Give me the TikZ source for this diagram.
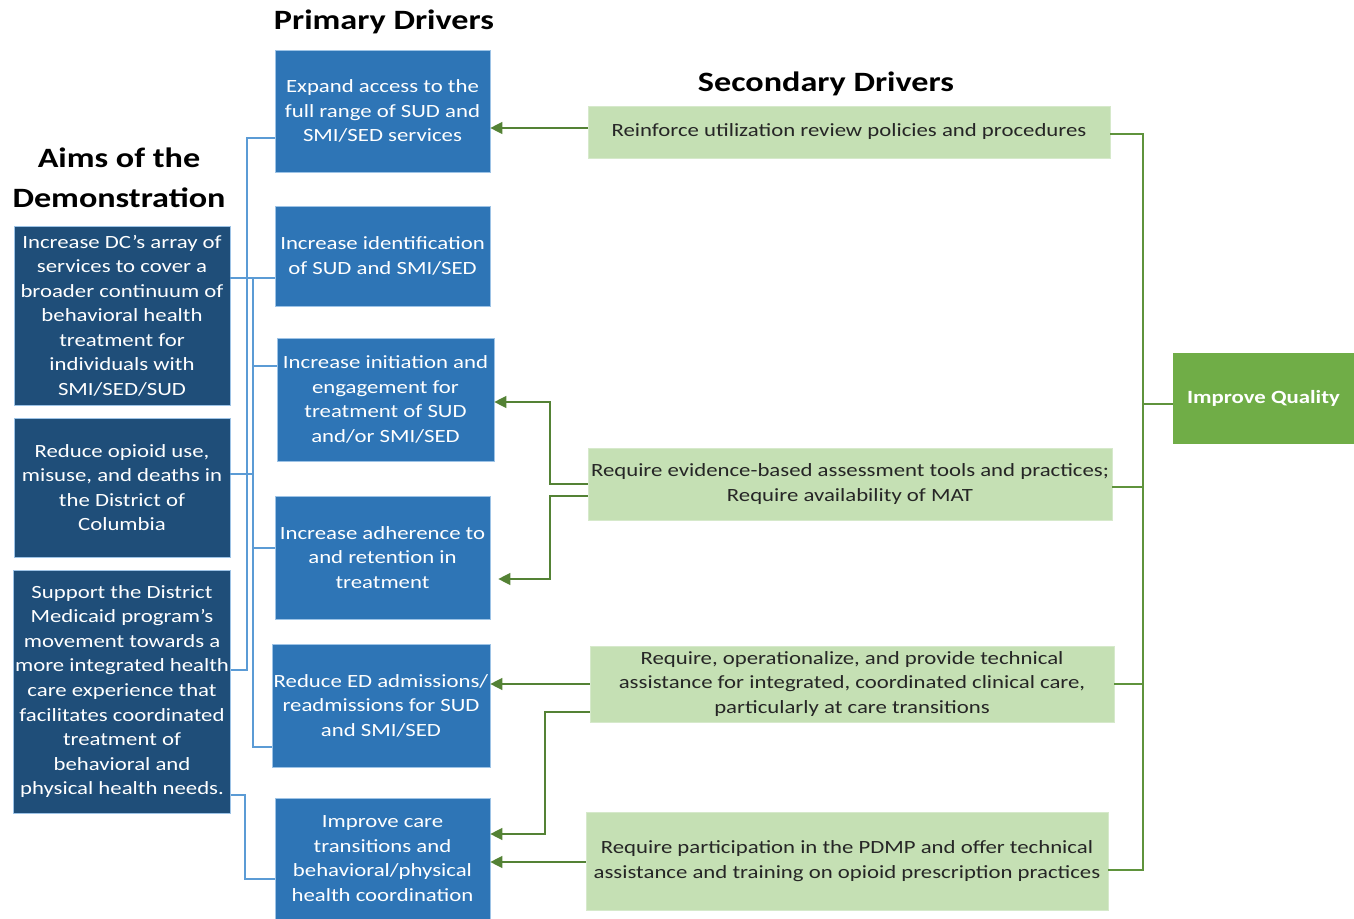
\documentclass[tikz,border=0pt]{standalone}
\usepackage{fontspec}
\setmainfont{Carlito}[FakeStretch=1.22]
\usepackage{tikz}
\usetikzlibrary{arrows.meta}

\definecolor{aimblue}{HTML}{1F4E79}
\definecolor{pdblue}{HTML}{2E75B6}
\definecolor{sdgreen}{HTML}{C5E0B4}
\definecolor{iqgreen}{HTML}{70AD47}
\definecolor{linkblue}{HTML}{5B9BD5}
\definecolor{arrgreen}{HTML}{548235}
\newcommand{\boxfont}{\fontsize{14}{18.4}\selectfont}
\newcommand{\headfont}{\fontsize{21}{30}\selectfont\bfseries}

\begin{document}
\begin{tikzpicture}[x=0.75pt,y=-0.75pt,
	aim/.style={fill=aimblue,draw=linkblue!60!white,line width=0.5pt,text=white,align=center,font=\boxfont,inner sep=1pt,minimum width=162pt},
	primary/.style={fill=pdblue,draw=linkblue!60!white,line width=0.5pt,text=white,align=center,font=\boxfont,inner sep=1pt,minimum width=161.25pt},
	secondary/.style={fill=sdgreen,draw=sdgreen!70!white,line width=0.5pt,text=black!85,align=center,font=\boxfont,inner sep=1pt,minimum width=391.5pt},
	head/.style={font=\headfont,text=black,align=center},
	bline/.style={draw=linkblue,line width=1pt},
	gline/.style={draw=arrgreen,line width=1pt},
	garrow/.style={gline,-{Triangle[length=9pt,width=9pt]}}]
	\useasboundingbox (0,0) rectangle (1354,919);
	% headings
	\node[head] (aimhead) at (119,178) {Aims of the\\Demonstration};
	\node[head] (pdhead) at (384,22) {Primary Drivers};
	\node[head] (sdhead) at (826,84) {Secondary Drivers};
	% aims
	\node[aim,minimum height=134.25pt] (a1) at (122,315.5) {Increase DC’s array of\\services to cover a\\broader continuum of\\behavioral health\\treatment for\\individuals with\\SMI/SED/SUD};
	\node[aim,minimum height=104.25pt] (a2) at (122,487.5) {Reduce opioid use,\\misuse, and deaths in\\the District of\\Columbia};
	\node[aim,minimum height=182.25pt] (a3) at (122,691.5) {Support the District\\Medicaid program’s\\movement towards a\\more integrated health\\care experience that\\facilitates coordinated\\treatment of\\behavioral and\\physical health needs.};
	% primary drivers
	\node[primary,minimum height=91.5pt] (p1) at (382.5,111) {Expand access to the\\full range of SUD and\\SMI/SED services};
	\node[primary,minimum height=75pt] (p2) at (382.5,256) {Increase identification\\of SUD and SMI/SED};
	\node[primary,minimum height=92.25pt,minimum width=162.75pt] (p3) at (385.5,399.5) {Increase initiation and\\engagement for\\treatment of SUD\\and/or SMI/SED};
	\node[primary,minimum height=92.25pt] (p4) at (382.5,557.5) {Increase adherence to\\and retention in\\treatment};
	\node[primary,minimum height=92.25pt,minimum width=163.5pt] (p5) at (381,705.5) {Reduce ED admissions/\\readmissions for SUD\\and SMI/SED};
	\node[primary,minimum height=90.75pt] (p6) at (382.5,858.5) {Improve care\\transitions and\\behavioral/physical\\health coordination};
	% secondary drivers
	\node[secondary,minimum height=39pt] (s1) at (849,132) {Reinforce utilization review policies and procedures};
	\node[secondary,minimum height=54pt,minimum width=393pt] (s2) at (850,484) {Require evidence-based assessment tools and practices;\\Require availability of MAT};
	\node[secondary,minimum height=57pt,minimum width=393pt] (s3) at (852,684) {Require, operationalize, and provide technical\\assistance for integrated, coordinated clinical care,\\particularly at care transitions};
	\node[secondary,minimum height=73.5pt] (s4) at (847,861) {Require participation in the PDMP and offer technical\\assistance and training on opioid prescription practices};
	% goal
	\node[fill=iqgreen,text=white,font=\fontsize{14}{18}\selectfont\bfseries,minimum width=135.75pt,minimum height=68.25pt,inner sep=1pt] (iq) at (1263.5,398.5) {Improve Quality};
	%
	% aims to primary drivers
	\path[bline]
	(p1.west |- 0,138) -| (247,670) -- (a3.east |- 0,670)
	(a1.east |- 0,278) -- (p2.west |- 0,278)
	(253,278) |- (p5.west |- 0,747)
	(253,366) -- (p3.west |- 0,366)
	(a2.east |- 0,474) -- (253,474)
	(253,548) -- (p4.west |- 0,548)
	(a3.east |- 0,795) -| (245,879) -- (p6.west |- 0,879);
	%
	% secondary to primary drivers
	\path[garrow] (s1.west |- 0,128) -- (p1.east |- 0,128);
	\path[garrow] (s2.west |- 0,484) -| (550,402) -- (p3.east |- 0,402);
	\path[garrow] (s2.west |- 0,496) -| (550,579) -- ([xshift=6pt]p4.east |- 0,579);
	\path[garrow] (s3.west |- 0,684) -- (p5.east |- 0,684);
	\path[garrow] (s3.west |- 0,712) -| (545,834) -- (p6.east |- 0,834);
	\path[garrow] (s4.west |- 0,862) -- (p6.east |- 0,862);
	%
	% secondary drivers to goal
	\path[gline,draw=iqgreen!85!black,line width=1.3pt]
	(s1.east |- 0,134) -| (1143,870) -- (s4.east |- 0,870)
	(s2.east |- 0,487) -- (1143,487)
	(s3.east |- 0,684) -- (1143,684)
	(1143,404) -- (iq.west |- 0,404);
\end{tikzpicture}
\end{document}
